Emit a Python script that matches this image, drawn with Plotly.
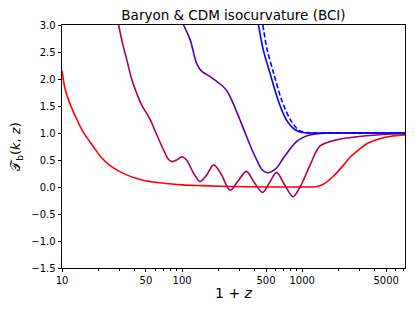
import plotly.graph_objects as go

# ---- data (x = 1+z, y = T_b(k,z)) ----
red_x = [10, 10.65, 11.3, 12, 13.3, 15, 18.2, 21, 25, 30, 35, 40, 48, 65, 100, 150, 250, 500, 1000, 1300, 1500, 1800, 2200, 2500, 3000, 3500, 4500, 5500, 7200]
red_y = [2.15, 1.80, 1.62, 1.47, 1.25, 1.02, 0.75, 0.56, 0.40, 0.29, 0.22, 0.17, 0.12, 0.08, 0.04, 0.025, 0.01, 0.0, 0.0, 0.005, 0.05, 0.19, 0.40, 0.55, 0.70, 0.81, 0.90, 0.94, 0.965]

crim_x = [29.6, 32, 34.7, 38, 41.8, 46, 50.8, 55, 58, 64, 70, 76, 82, 90, 99.5, 109, 125, 141, 160, 183, 210, 251, 290, 343, 400, 468, 540, 612, 710, 838, 960, 1160, 1410, 2000, 3470, 7200]
crim_y = [3.0, 2.65, 2.35, 2.0, 1.74, 1.52, 1.36, 1.22, 1.10, 0.88, 0.69, 0.53, 0.47, 0.50, 0.56, 0.50, 0.25, 0.10, 0.22, 0.41, 0.25, -0.06, 0.10, 0.29, 0.08, -0.10, 0.10, 0.27, 0.05, -0.18, 0.0, 0.40, 0.76, 0.88, 0.95, 0.99]

purp_x = [102.7, 117, 132, 146, 170, 193, 215, 236, 260, 284, 315, 345, 380, 419, 460, 509, 550, 617, 680, 748, 830, 906, 1000, 1100, 1300, 1600, 2500, 7200]
purp_y = [3.0, 2.72, 2.29, 2.14, 2.05, 1.96, 1.88, 1.78, 1.60, 1.40, 1.15, 0.93, 0.70, 0.50, 0.33, 0.265, 0.28, 0.36, 0.50, 0.63, 0.76, 0.85, 0.91, 0.95, 0.98, 0.995, 1.0, 1.0]

blue_x = [433, 474, 541, 617, 677, 750, 830, 906, 1000, 1164, 2000, 7200]
blue_y = [3.0, 2.54, 2.10, 1.67, 1.42, 1.22, 1.10, 1.04, 1.01, 1.0, 1.0, 1.0]

bdash_x = [470, 510, 580, 660, 723, 800, 880, 960, 1060, 1200, 2000, 7200]
bdash_y = [3.0, 2.55, 2.10, 1.67, 1.44, 1.24, 1.11, 1.04, 1.01, 1.0, 1.0, 1.0]

x_ticks = [10, 50, 100, 500, 1000, 5000]
x_ticklabels = ["10", "50", "100", "500", "1000", "5000"]
x_minor = [m * d for d in (10, 100, 1000) for m in range(2, 10)]
y_ticks = [-1.5, -1.0, -0.5, 0.0, 0.5, 1.0, 1.5, 2.0, 2.5, 3.0]
y_ticklabels = ["−1.5", "−1.0", "−0.5", "0.0", "0.5", "1.0", "1.5", "2.0", "2.5", "3.0"]

title = "Baryon & CDM isocurvature (BCI)"

fig = go.Figure()
series = [
    (red_x, red_y, "#ff0000", "solid"),
    (crim_x, crim_y, "#aa0055", "solid"),
    (purp_x, purp_y, "#5500aa", "solid"),
    (blue_x, blue_y, "#0000ff", "solid"),
    (bdash_x, bdash_y, "#0000ff", "5px,2.5px"),
]
for xs, ys, c, d in series:
    fig.add_trace(go.Scatter(x=xs, y=ys, mode="lines",
                             line=dict(color=c, width=1.6, dash=d, shape="spline", smoothing=0.9),
                             showlegend=False, hoverinfo="skip"))

# page body has an 8px margin: figure is drawn offset by (8, 8)
W, H = 407, 303
font = "DejaVu Sans, sans-serif"
fig.update_layout(
    width=W, height=H,
    margin=dict(l=54, r=10, t=17, b=43, autoexpand=False),
    paper_bgcolor="white", plot_bgcolor="white",
    title=dict(text=title, x=225.5 / W, xref="container", xanchor="center",
               y=1 - 7 / H, yref="container", yanchor="middle", automargin=False,
               font=dict(family=font, size=13.5, color="black")),
    font=dict(family=font, size=10, color="black"),
)
fig.update_xaxes(
    type="log", range=[1, 3.856], automargin=False,
    tickmode="array", tickvals=x_ticks, ticktext=x_ticklabels,
    ticks="outside", ticklen=3.5, tickwidth=0.8, tickcolor="black",
    minor=dict(tickmode="array", tickvals=x_minor, ticks="outside", ticklen=2, tickwidth=0.6, tickcolor="black", showgrid=False),
    showline=True, linecolor="black", linewidth=0.8, mirror=True,
    showgrid=False, zeroline=False,
    tickfont=dict(family=font, size=10, color="black"),
    title=dict(text="1 + <i>z</i>", font=dict(family=font, size=14, color="black"), standoff=2),
)
fig.update_yaxes(
    range=[-1.5, 3.0], automargin=False,
    tickmode="array", tickvals=y_ticks, ticktext=y_ticklabels,
    ticks="outside", ticklen=3.5, tickwidth=0.8, tickcolor="black",
    showline=True, linecolor="black", linewidth=0.8, mirror=True,
    showgrid=False, zeroline=False,
    tickfont=dict(family=font, size=10, color="black"),
    title=dict(text="𝒯<sub>b</sub>(<i>k</i>, <i>z</i>)", font=dict(family=font, size=13, color="black"), standoff=12),
)
fig.write_html("out.html")
